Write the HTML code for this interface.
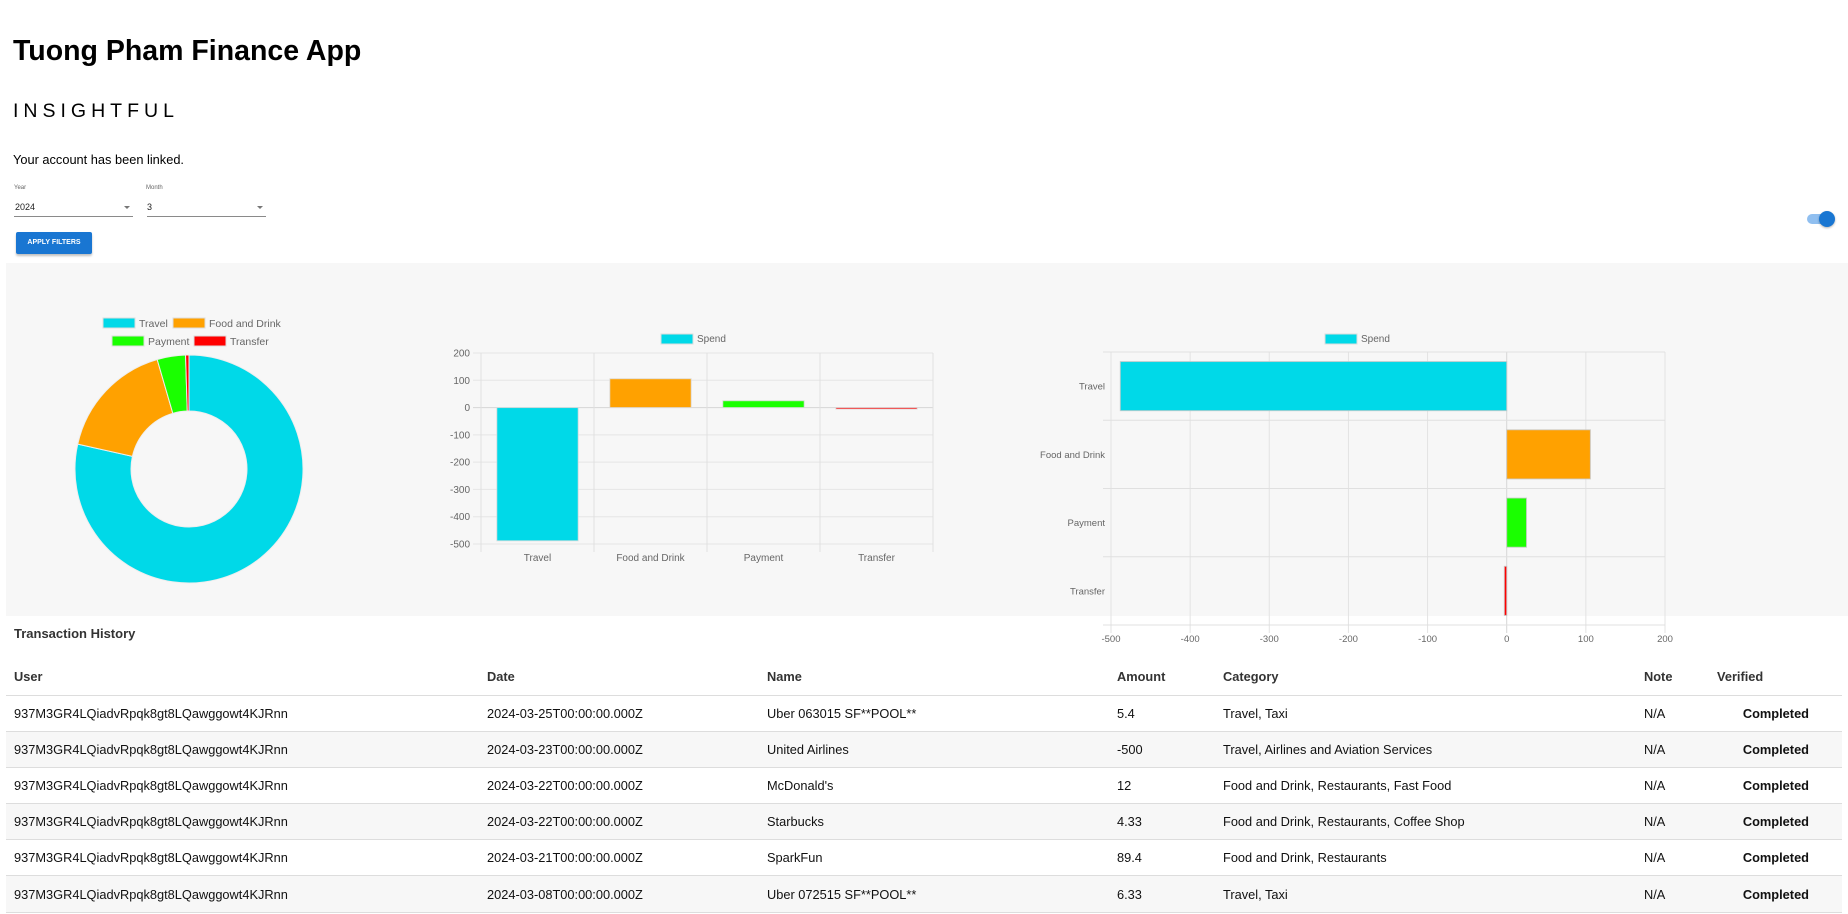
<!DOCTYPE html>
<html><head><meta charset="utf-8"><style>
*{box-sizing:border-box}
body{margin:0;width:1848px;height:914px;overflow:hidden;background:#fff;font-family:"Liberation Sans",Arial,sans-serif;color:#000;position:relative}
.abs{position:absolute}
h1{position:absolute;left:13px;top:32px;margin:0;font-size:28.5px;font-weight:bold;line-height:38px}
.sub{left:13px;top:99px;font-size:19.5px;letter-spacing:5px;line-height:24px}
.linked{left:13px;top:152px;font-size:12.8px}
.lbl{font-size:6px;color:#666}
.sel{font-size:9px;color:#222}
.ul{height:1px;background:#8a8a8a}
.arrow{width:0;height:0;border-left:3px solid transparent;border-right:3px solid transparent;border-top:3px solid #777}
.btn{left:16px;top:232px;width:76px;height:22px;background:#1976d2;color:#fff;font-size:7px;font-weight:bold;text-align:center;line-height:22px;border-radius:2px;box-shadow:0 2px 2px rgba(0,0,0,.25)}
.panel{left:6px;top:263px;width:1842px;height:353px;background:#f7f7f7}
svg text{font-family:"Liberation Sans",Arial,sans-serif;fill:#666}
table{position:absolute;left:6px;top:658px;width:1836px;border-collapse:collapse;font-size:12.8px}
th{font-weight:bold;text-align:left;height:37px;color:#333;border-bottom:1px solid #ddd;padding:0}
td{height:36.2px;border-bottom:1px solid #ddd;padding:0;color:#111}
tr.alt td{background:#f7f7f7}
</style></head><body>
<h1>Tuong Pham Finance App</h1>
<div class="abs sub">INSIGHTFUL</div>
<div class="abs linked">Your account has been linked.</div>

<div>
<div class="abs lbl" style="left:14px;top:185px">Year</div>
<div class="abs sel" style="left:15px;top:202px">2024</div>
<div class="abs arrow" style="left:124px;top:206px"></div>
<div class="abs ul" style="left:14px;top:216px;width:119px"></div>
</div>
<div>
<div class="abs lbl" style="left:146px;top:185px">Month</div>
<div class="abs sel" style="left:147px;top:202px">3</div>
<div class="abs arrow" style="left:257px;top:206px"></div>
<div class="abs ul" style="left:147px;top:216px;width:119px"></div>
</div>
<div class="abs btn">APPLY FILTERS</div>

<div class="abs" style="left:1807px;top:214px;width:24px;height:10px;border-radius:5px;background:#90bff0"></div>
<div class="abs" style="left:1819px;top:211px;width:16px;height:16px;border-radius:50%;background:#1976d2;box-shadow:0 1px 2px rgba(0,0,0,.3)"></div>

<div class="abs panel"></div>
<svg class="abs" style="left:0;top:0" width="1848" height="914" id="charts"></svg>

<div class="abs" style="left:14px;top:626px;font-size:13px;font-weight:bold;color:#333">Transaction History</div>
<table>
<colgroup><col style="width:481px"><col style="width:280px"><col style="width:350px"><col style="width:106px"><col style="width:421px"><col style="width:73px"><col></colgroup>
<tr><th style="padding-left:8px">User</th><th>Date</th><th>Name</th><th>Amount</th><th>Category</th><th>Note</th><th>Verified</th></tr>
<tr><td style="padding-left:8px">937M3GR4LQiadvRpqk8gt8LQawggowt4KJRnn</td><td>2024-03-25T00:00:00.000Z</td><td>Uber 063015 SF**POOL**</td><td>5.4</td><td>Travel, Taxi</td><td>N/A</td><td style="text-align:right;padding-right:33px;font-weight:bold">Completed</td></tr>
<tr class="alt"><td style="padding-left:8px">937M3GR4LQiadvRpqk8gt8LQawggowt4KJRnn</td><td>2024-03-23T00:00:00.000Z</td><td>United Airlines</td><td>-500</td><td>Travel, Airlines and Aviation Services</td><td>N/A</td><td style="text-align:right;padding-right:33px;font-weight:bold">Completed</td></tr>
<tr><td style="padding-left:8px">937M3GR4LQiadvRpqk8gt8LQawggowt4KJRnn</td><td>2024-03-22T00:00:00.000Z</td><td>McDonald's</td><td>12</td><td>Food and Drink, Restaurants, Fast Food</td><td>N/A</td><td style="text-align:right;padding-right:33px;font-weight:bold">Completed</td></tr>
<tr class="alt"><td style="padding-left:8px">937M3GR4LQiadvRpqk8gt8LQawggowt4KJRnn</td><td>2024-03-22T00:00:00.000Z</td><td>Starbucks</td><td>4.33</td><td>Food and Drink, Restaurants, Coffee Shop</td><td>N/A</td><td style="text-align:right;padding-right:33px;font-weight:bold">Completed</td></tr>
<tr><td style="padding-left:8px">937M3GR4LQiadvRpqk8gt8LQawggowt4KJRnn</td><td>2024-03-21T00:00:00.000Z</td><td>SparkFun</td><td>89.4</td><td>Food and Drink, Restaurants</td><td>N/A</td><td style="text-align:right;padding-right:33px;font-weight:bold">Completed</td></tr>
<tr class="alt"><td style="padding-left:8px">937M3GR4LQiadvRpqk8gt8LQawggowt4KJRnn</td><td>2024-03-08T00:00:00.000Z</td><td>Uber 072515 SF**POOL**</td><td>6.33</td><td>Travel, Taxi</td><td>N/A</td><td style="text-align:right;padding-right:33px;font-weight:bold">Completed</td></tr>
</table>

<script>
const categories = ["Travel", "Food and Drink", "Payment", "Transfer"];
const spendValues = [-488.27, 105.73, 25, -3];
const colors = ["#00d9e8", "#ffa100", "#1aff00", "#ff0000"];
const valueTicks = [200, 100, 0, -100, -200, -300, -400, -500];
const hTicks = [-500, -400, -300, -200, -100, 0, 100, 200];

const svg = document.getElementById('charts');
const NS = 'http://www.w3.org/2000/svg';
function mk(tag, attrs, parent) {
  const e = document.createElementNS(NS, tag);
  for (const k in attrs) e.setAttribute(k, attrs[k]);
  (parent || svg).appendChild(e);
  return e;
}
function txt(x, y, s, anchor, size, parent) {
  const t = mk('text', {x: x, y: y, 'text-anchor': anchor, 'font-size': size}, parent);
  t.textContent = s;
  return t;
}

// ---- Doughnut ----
const dg = mk('g', {});


const cx = 189, cy = 469, R = 114, r = 58;
const total = spendValues.reduce((a, v) => a + Math.abs(v), 0);
let ang = -Math.PI / 2;
spendValues.forEach((v, i) => {
  const a2 = ang + Math.abs(v) / total * Math.PI * 2;
  const big = (a2 - ang) > Math.PI ? 1 : 0;
  const p = `M${cx + R * Math.cos(ang)} ${cy + R * Math.sin(ang)} A${R} ${R} 0 ${big} 1 ${cx + R * Math.cos(a2)} ${cy + R * Math.sin(a2)} L${cx + r * Math.cos(a2)} ${cy + r * Math.sin(a2)} A${r} ${r} 0 ${big} 0 ${cx + r * Math.cos(ang)} ${cy + r * Math.sin(ang)} Z`;
  const s = mk('path', {d: p, fill: colors[i], stroke: '#eee', 'stroke-width': 1}, dg);
  
  
  ang = a2;
});
const legPos = [[103, 323], [173, 323], [112, 341], [194, 341]];
categories.forEach((c, i) => {
  const lg = mk('g', {}, dg);
  
  
  mk('rect', {x: legPos[i][0], y: legPos[i][1] - 5, width: 32, height: 10, fill: colors[i], stroke: '#ddd'}, lg);
  txt(legPos[i][0] + 36, legPos[i][1] + 4, c, 'start', 10.5, lg);
});

// ---- Vertical bar chart ----
const bg = mk('g', {});


const bL = 481, bR = 933, bT = 353, bB = 544, vMax = 200, vMin = -500;
const yS = v => bT + (vMax - v) / (vMax - vMin) * (bB - bT);
const bw = (bR - bL) / categories.length;
valueTicks.forEach(t => {
  mk('line', {x1: bL - 8, x2: bR, y1: yS(t), y2: yS(t), stroke: t === 0 ? '#d6d6d6' : '#e6e6e6'}, bg);
  const lab = txt(bL - 11, yS(t) + 3.5, String(t), 'end', 10, bg);
  
  
});
for (let i = 0; i <= categories.length; i++) mk('line', {x1: bL + i * bw, x2: bL + i * bw, y1: bT, y2: bB + 8, stroke: '#e0e0e0'}, bg);
categories.forEach((c, i) => {
  const v = spendValues[i];
  const x = bL + i * bw + bw * 0.14;
  const y0 = yS(Math.max(v, 0)), y1 = yS(Math.min(v, 0));
  const b = mk('rect', {x: x, y: y0, width: bw * 0.72, height: Math.max(y1 - y0, 1.5), fill: colors[i], stroke: 'rgba(220,220,220,.8)', 'stroke-width': 1}, bg);
  
  
  const lab = txt(bL + i * bw + bw / 2, bB + 17, c, 'middle', 10, bg);
  
  
});
const bl = mk('g', {}, bg);


mk('rect', {x: 661, y: 334, width: 32, height: 10, fill: colors[0], stroke: '#ddd'}, bl);
txt(697, 342, 'Spend', 'start', 10, bl);

// ---- Horizontal bar chart ----
const hg = mk('g', {});


const hL = 1111, hR = 1665, hT = 352, hB = 625, hMin = -500, hMax = 200;
const xS = v => hL + (v - hMin) / (hMax - hMin) * (hR - hL);
const bh = (hB - hT) / categories.length;
hTicks.forEach(t => {
  mk('line', {x1: xS(t), x2: xS(t), y1: hT, y2: hB + 8, stroke: t === 0 ? '#d6d6d6' : '#e3e3e3'}, hg);
  const lab = txt(xS(t), hB + 17, String(t), 'middle', 9.5, hg);
  
  
});
for (let i = 0; i <= categories.length; i++) mk('line', {x1: hL - 8, x2: hR, y1: hT + i * bh, y2: hT + i * bh, stroke: '#e0e0e0'}, hg);
categories.forEach((c, i) => {
  const v = spendValues[i];
  const y = hT + i * bh + bh * 0.14;
  const x0 = xS(Math.min(v, 0)), x1 = xS(Math.max(v, 0));
  const b = mk('rect', {x: x0, y: y, width: Math.max(x1 - x0, 2), height: bh * 0.72, fill: colors[i], stroke: 'rgba(200,200,200,.8)', 'stroke-width': 1}, hg);
  
  
  const lab = txt(hL - 6, hT + i * bh + bh / 2 + 3.5, c, 'end', 9.5, hg);
  
  
});
const hl = mk('g', {}, hg);


mk('rect', {x: 1325, y: 334, width: 32, height: 10, fill: colors[0], stroke: '#ddd'}, hl);
txt(1361, 342, 'Spend', 'start', 10, hl);
</script>
</body></html>
